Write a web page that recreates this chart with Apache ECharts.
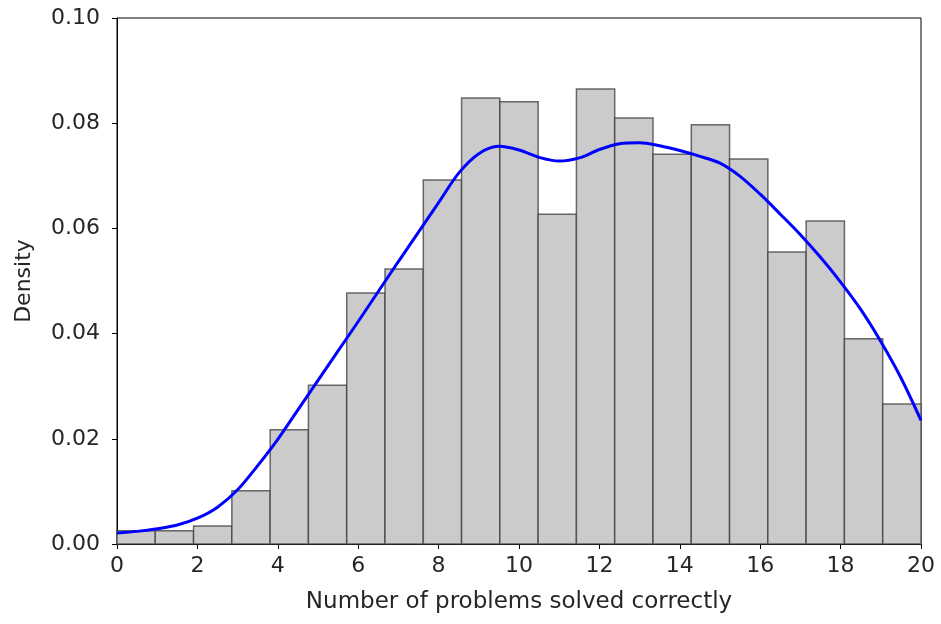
<!DOCTYPE html>
<html>
<head>
<meta charset="utf-8">
<script src="https://cdn.jsdelivr.net/npm/echarts@6/dist/echarts.min.js"></script>
<style>
  html, body { margin: 0; padding: 0; background: #fff; }
  #chart { width: 941px; height: 624px; }
</style>
</head>
<body>
<div id="chart"></div>
<script>
// histogram: 21 bins over [0, 20]
const binCount = 21;
const xMin = 0;
const xMax = 20;
const density = [
  0.0025, 0.0025, 0.0034, 0.0101, 0.0217, 0.0302, 0.0477, 0.0523, 0.0692, 0.0848, 0.0841,
  0.0627, 0.0865, 0.0810, 0.0741, 0.0797, 0.0732, 0.0555, 0.0614, 0.0390, 0.0266
];

// kde curve, every 0.5
const kdeX = [0, 0.5, 1, 1.5, 2, 2.5, 3, 3.5, 4, 4.5, 5, 5.5, 6, 6.5, 7, 7.5, 8, 8.5, 9, 9.5, 10,
  10.5, 11, 11.5, 12, 12.5, 13, 13.5, 14, 14.5, 15, 15.5, 16, 16.5, 17, 17.5, 18, 18.5, 19, 19.5, 20];
const kdeY = [0.0021, 0.0024, 0.0029, 0.0036, 0.0049, 0.0070, 0.0103, 0.0149, 0.0199, 0.0255, 0.0311,
  0.0367, 0.0423, 0.0480, 0.0537, 0.0593, 0.0649, 0.0705, 0.0742, 0.0756, 0.0749,
  0.0735, 0.0728, 0.0734, 0.0750, 0.0761, 0.0763, 0.0757, 0.0748, 0.0737, 0.0724,
  0.0699, 0.0665, 0.0627, 0.0588, 0.0545, 0.0498, 0.0446, 0.0385, 0.0316, 0.0235];

const binWidth = (xMax - xMin) / binCount;
const histData = density.map((d, i) => [xMin + i * binWidth, xMin + (i + 1) * binWidth, d]);
const kdeData = kdeX.map((x, i) => [x, kdeY[i]]);

const font = 'DejaVu Sans';
const txt = '#262626';
const chart = echarts.init(document.getElementById('chart'));

const option = {
  animation: false,
  grid: {
    left: 117, right: 20, top: 18, bottom: 80,
    show: true, borderColor: '#000', borderWidth: 1, backgroundColor: 'transparent'
  },
  xAxis: {
    type: 'value',
    min: xMin, max: xMax, interval: 2,
    name: 'Number of problems solved correctly',
    nameLocation: 'middle', nameGap: 47,
    nameTextStyle: { fontFamily: font, fontSize: 23, color: txt },
    axisLine: { show: true, onZero: false, lineStyle: { color: '#000' } },
    axisTick: { show: true, length: 5, lineStyle: { color: '#000' } },
    axisLabel: { fontFamily: font, fontSize: 22, color: txt, margin: 11 },
    splitLine: { show: false }
  },
  yAxis: {
    type: 'value',
    min: 0, max: 0.1, interval: 0.02,
    name: 'Density',
    nameLocation: 'middle', nameGap: 82, nameRotate: 90,
    nameTextStyle: { fontFamily: font, fontSize: 22, color: txt },
    axisLine: { show: true, lineStyle: { color: '#000' } },
    axisTick: { show: true, length: 5, lineStyle: { color: '#000' } },
    axisLabel: {
      fontFamily: font, fontSize: 22, color: txt, margin: 17,
      formatter: v => v.toFixed(2)
    },
    splitLine: { show: false }
  },
  series: [
    {
      type: 'custom',
      data: histData,
      renderItem: function (params, api) {
        const p0 = api.coord([api.value(0), api.value(2)]);
        const p1 = api.coord([api.value(1), 0]);
        return {
          type: 'rect',
          shape: { x: p0[0], y: p0[1], width: p1[0] - p0[0], height: p1[1] - p0[1] },
          style: { fill: '#cbcbcb', stroke: 'rgba(60,60,60,0.75)', lineWidth: 1.5 }
        };
      },
      encode: { x: [0, 1], y: 2 },
      z: 1
    },
    {
      type: 'line',
      data: kdeData,
      smooth: 0.3,
      showSymbol: false,
      lineStyle: { color: '#0000ff', width: 3 },
      z: 3
    }
  ]
};

chart.setOption(option);
</script>
</body>
</html>
